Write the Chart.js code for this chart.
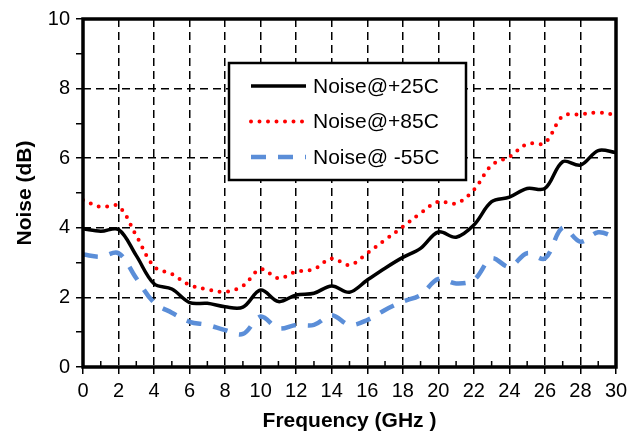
<!DOCTYPE html>
<html>
<head>
<meta charset="utf-8">
<script src="https://cdn.jsdelivr.net/npm/chart.js@4/dist/chart.umd.min.js"></script>
<style>
  html, body { margin: 0; padding: 0; background: #fff; }
  #wrap { width: 642px; height: 435px; }
</style>
</head>
<body>
<div id="wrap"><canvas id="chart" width="642" height="435"></canvas></div>
<script>
const freq = [0, 1, 2, 3, 4, 5, 6, 7, 8, 9, 10, 11, 12, 13, 14, 15, 16, 17, 18, 19, 20, 21, 22, 23, 24, 25, 26, 27, 28, 29, 30];
const noise25 = [3.97, 3.90, 3.95, 3.20, 2.39, 2.24, 1.85, 1.83, 1.73, 1.72, 2.21, 1.88, 2.07, 2.12, 2.33, 2.15, 2.50, 2.84, 3.15, 3.41, 3.88, 3.73, 4.08, 4.75, 4.88, 5.13, 5.13, 5.90, 5.80, 6.22, 6.16];
const noise85 = [4.80, 4.60, 4.62, 3.77, 2.89, 2.67, 2.36, 2.23, 2.16, 2.33, 2.81, 2.55, 2.74, 2.81, 3.12, 2.93, 3.27, 3.65, 4.03, 4.42, 4.75, 4.70, 5.09, 5.80, 6.04, 6.41, 6.44, 7.21, 7.26, 7.31, 7.24];
const noiseM55 = [3.23, 3.17, 3.27, 2.55, 1.85, 1.56, 1.30, 1.21, 1.06, 0.95, 1.45, 1.11, 1.21, 1.21, 1.49, 1.21, 1.35, 1.64, 1.88, 2.07, 2.53, 2.40, 2.50, 3.12, 2.88, 3.27, 3.12, 4.00, 3.60, 3.87, 3.72];
const seriesLabels = ["Noise@+25C", "Noise@+85C", "Noise@ -55C"];

const FONT = "'Liberation Sans', Arial, sans-serif";

function points(values) {
  return freq.map((f, i) => ({ x: f, y: values[i] }));
}

// frame, inner minor ticks on x, and the boxed legend
const decorations = {
  id: "decorations",
  afterDatasetsDraw(chart) {
    const { ctx, chartArea: a } = chart;
    const xs = chart.scales.x;

    ctx.save();
    ctx.strokeStyle = "#000";
    ctx.lineWidth = 1.5;
    ctx.beginPath();
    for (let v = 1; v < 30; v += 2) {
      const px = xs.getPixelForValue(v);
      ctx.moveTo(px, a.bottom);
      ctx.lineTo(px, a.bottom - 6);
    }
    ctx.stroke();

    ctx.lineWidth = 3.5;
    ctx.strokeRect(a.left, a.top, a.right - a.left, a.bottom - a.top);

    // legend box
    const box = { left: 229, top: 63, width: 237, height: 117 };
    ctx.fillStyle = "#fff";
    ctx.fillRect(box.left, box.top, box.width, box.height);
    ctx.lineWidth = 2.5;
    ctx.strokeRect(box.left, box.top, box.width, box.height);

    const rows = [86, 121.5, 157];
    chart.data.datasets.forEach((ds, i) => {
      const y = rows[i];
      ctx.save();
      ctx.strokeStyle = ds.borderColor;
      ctx.lineWidth = ds.borderWidth;
      ctx.lineCap = ds.borderCapStyle || "butt";
      ctx.setLineDash(ds.borderDash || []);
      ctx.beginPath();
      ctx.moveTo(251, y);
      ctx.lineTo(306, y);
      ctx.stroke();
      ctx.restore();

      ctx.fillStyle = "#000";
      ctx.font = "21px " + FONT;
      ctx.textBaseline = "middle";
      ctx.textAlign = "left";
      ctx.fillText(ds.label, 313, y + 1);
    });
    ctx.restore();
  }
};

const ctx = document.getElementById("chart").getContext("2d");
new Chart(ctx, {
  type: "line",
  data: {
    datasets: [
      {
        label: seriesLabels[0],
        data: points(noise25),
        borderColor: "#000000",
        borderWidth: 3.5,
        pointRadius: 0,
        tension: 0.35
      },
      {
        label: seriesLabels[1],
        data: points(noise85),
        borderColor: "#ff0000",
        borderWidth: 4,
        borderDash: [0, 8.5],
        borderCapStyle: "round",
        pointRadius: 0,
        tension: 0.35
      },
      {
        label: seriesLabels[2],
        data: points(noiseM55),
        borderColor: "#5b8ed8",
        borderWidth: 4.5,
        borderDash: [15, 12],
        pointRadius: 0,
        tension: 0.35
      }
    ]
  },
  options: {
    responsive: false,
    animation: false,
    devicePixelRatio: 1,
    layout: { padding: { left: 0, right: 26, top: 19, bottom: 0 } },
    plugins: {
      legend: { display: false },
      tooltip: { enabled: false }
    },
    scales: {
      x: {
        type: "linear",
        min: 0,
        max: 30,
        afterFit: (scale) => { scale.height = 68; },
        ticks: {
          stepSize: 2,
          autoSkip: false,
          maxRotation: 0,
          padding: 5,
          color: "#000",
          font: { family: FONT, size: 20 }
        },
        grid: {
          color: "#000",
          lineWidth: 1.5,
          tickLength: 7,
          tickWidth: 1.5,
          tickColor: "#000"
        },
        border: { display: false, dash: [8, 5] },
        title: {
          display: true,
          text: "Frequency (GHz )",
          color: "#000",
          font: { family: FONT, size: 21, weight: "bold" },
          padding: { top: 0, bottom: 1 }
        }
      },
      y: {
        min: 0,
        max: 10,
        afterFit: (scale) => { scale.width = 83; },
        ticks: {
          stepSize: 1,
          padding: 6,
          color: "#000",
          font: { family: FONT, size: 20 },
          callback: (v) => (v % 2 === 0 ? v : "")
        },
        grid: {
          color: (c) => (c.tick && c.tick.value % 2 === 0 ? "#000" : "transparent"),
          lineWidth: 1.5,
          tickLength: 7,
          tickWidth: 1.5,
          tickColor: "#000"
        },
        border: { display: false, dash: [8, 5] },
        title: {
          display: true,
          text: "Noise (dB)",
          color: "#000",
          font: { family: FONT, size: 21, weight: "bold" },
          padding: { top: 13, bottom: 0 }
        }
      }
    }
  },
  plugins: [decorations]
});
</script>
</body>
</html>
